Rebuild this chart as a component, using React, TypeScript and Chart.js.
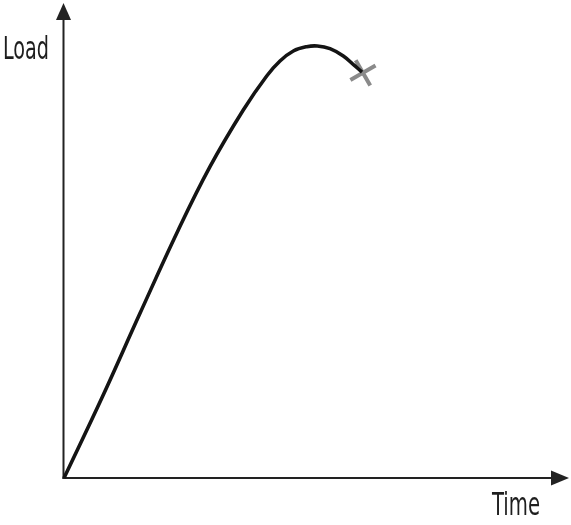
import React, { useEffect, useRef } from "react";
import { Chart, registerables } from "chart.js";

Chart.register(...registerables);

// Curve values (time on x, load on y, in arbitrary units 0..100)
const timeValues = [0, 7.47, 15.05, 22.63, 28.91, 35.5, 40.14, 42.77, 45.41, 48.06, 50.16, 52.67, 55.31, 57.62, 59.01];
const loadValues = [0, 16.78, 34.67, 52.21, 65.54, 77.47, 84.63, 87.79, 89.89, 90.8, 90.95, 90.38, 88.84, 86.74, 85.47];
// Failure point marker
const failureTime = [59.2];
const failureLoad = [85.3];
// Axis labels
const xAxisLabel = "Time";
const yAxisLabel = "Load";

const axesPlugin = {
  id: "arrowAxes",
  beforeDatasetsDraw(chart: any) {
    const ctx = chart.ctx;
    const xs = chart.scales.x;
    const ys = chart.scales.y;
    const x0 = xs.getPixelForValue(0);
    const y0 = ys.getPixelForValue(0);
    const xTip = xs.getPixelForValue(100);
    const yTip = ys.getPixelForValue(100);
    ctx.save();
    ctx.strokeStyle = "#222";
    ctx.fillStyle = "#222";
    ctx.lineWidth = 2;
    // y axis
    ctx.beginPath();
    ctx.moveTo(x0 - 0.5, y0 + 1);
    ctx.lineTo(x0 - 0.5, yTip + 14);
    ctx.stroke();
    ctx.beginPath();
    ctx.moveTo(x0 - 0.5, yTip);
    ctx.lineTo(x0 - 8, yTip + 17);
    ctx.lineTo(x0 + 7, yTip + 17);
    ctx.closePath();
    ctx.fill();
    // x axis
    ctx.beginPath();
    ctx.moveTo(x0 - 1.5, y0);
    ctx.lineTo(xTip - 14, y0);
    ctx.stroke();
    ctx.beginPath();
    ctx.moveTo(xTip, y0);
    ctx.lineTo(xTip - 18, y0 - 7.5);
    ctx.lineTo(xTip - 18, y0 + 7.5);
    ctx.closePath();
    ctx.fill();
    ctx.restore();
  },
  afterDraw(chart: any) {
    const ctx = chart.ctx;
    const drawText = (text: string, left: number, baseline: number, width: number) => {
      ctx.save();
      ctx.font = "32px 'Liberation Sans Narrow', 'DejaVu Sans Condensed', 'Liberation Sans', sans-serif";
      ctx.fillStyle = "#1e1e1e";
      ctx.textBaseline = "alphabetic";
      ctx.textAlign = "left";
      const w = ctx.measureText(text).width;
      ctx.translate(left, baseline);
      ctx.scale(width / w, 1);
      ctx.fillText(text, 0, 0);
      ctx.restore();
    };
    drawText(yAxisLabel, 3, 58.5, 46);
    drawText(xAxisLabel, 492, 515, 48);
  },
};

export default function App() {
  const ref = useRef<HTMLCanvasElement | null>(null);
  useEffect(() => {
    if (!ref.current) return;
    const chart = new Chart(ref.current, {
      type: "line",
      data: {
        datasets: [
          {
            data: timeValues.map((t, i) => ({ x: t, y: loadValues[i] })),
            borderColor: "#141414",
            borderWidth: 3.6,
            pointRadius: 0,
            tension: 0.4,
            fill: false,
            clip: false as any,
          },
          {
            data: failureTime.map((t, i) => ({ x: t, y: failureLoad[i] })),
            showLine: false,
            pointStyle: "crossRot",
            pointRadius: 14.5,
            pointBorderWidth: 4,
            pointBorderColor: "#8a8a8a",
            pointBackgroundColor: "#8a8a8a",
            pointRotation: 15,
            clip: false as any,
          },
        ],
      },
      plugins: [axesPlugin],
      options: {
        animation: false,
        responsive: false,
        events: [],
        layout: { autoPadding: false, padding: { left: 64, right: 2, top: 3, bottom: 47 } },
        plugins: { legend: { display: false }, tooltip: { enabled: false } },
        scales: {
          x: { type: "linear", min: 0, max: 100, display: false },
          y: { type: "linear", min: 0, max: 100, display: false },
        },
      },
    });
    return () => chart.destroy();
  }, []);
  return (
    <div style={{ position: "fixed", left: 0, top: 0, width: 571, height: 525, background: "#fff" }}>
      <canvas ref={ref} width={571} height={525} />
    </div>
  );
}
